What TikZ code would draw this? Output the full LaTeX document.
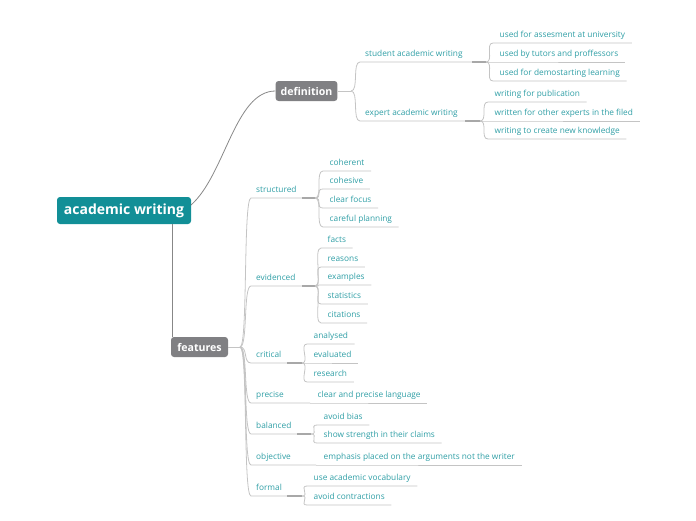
\documentclass[tikz,border=0pt]{standalone}
\usepackage{fontspec}
\setmainfont{Open Sans}
\usetikzlibrary{positioning}

\definecolor{rootteal}{RGB}{18,143,151}
\definecolor{boxgray}{RGB}{128,128,131}
\definecolor{leafteal}{RGB}{46,158,165}
\definecolor{twiggray}{RGB}{196,196,196}
\definecolor{hubgray}{RGB}{168,168,168}
\definecolor{stemgray}{RGB}{135,135,135}

\begin{document}
\begin{tikzpicture}[
        x=1pt, y=-1pt,
        root/.style={fill=rootteal, text=white, rounded corners=3pt, font=\fontsize{14}{16}\selectfont\bfseries,
            minimum width=134pt, minimum height=27pt, inner sep=0pt},
        mainbox/.style={fill=boxgray, text=white, rounded corners=3pt, font=\fontsize{10.6}{12}\selectfont\bfseries,
            minimum height=20pt, inner xsep=5pt, inner ysep=0pt},
        topic/.style={anchor=south west, text=leafteal, font=\fontsize{8.3}{10}\selectfont,
            inner xsep=5pt, inner ysep=3pt, text height=6pt, text depth=2pt},
        leaf/.style={topic, inner xsep=6.5pt},
        brace/.style={to path={.. controls +(8,0) and +(-8,0) .. (\tikztotarget)}},
        stem/.style={draw=stemgray, line width=0.8pt},
        twig/.style={draw=twiggray, line width=0.8pt},
        hub/.style={draw=hubgray, line width=1.1pt}
    ]
    \useasboundingbox (0,0) rectangle (696,520);

    % centre and the two main branches
    \node[root] (aw) at (124,210.5) {academic writing};
    \node[mainbox, minimum width=61pt] (def) at (306.5,91) {definition};
    \node[mainbox, minimum width=57pt] (feat) at (199.5,347) {features};
    \draw[stem] (191,205) .. controls (225,175) and (235,91) .. (def.west);
    \draw[stem] (172,224) -- (feat.north -| 172,0);

    % definition
    \coordinate (defend) at (351,91);
    \draw[twig] (def.east) -- (defend);
    \node[topic] (stu) at (360,62) {student academic writing};
    \node[topic] (exp) at (360,121) {expert academic writing};
    \coordinate (stuhub) at (486,62);
    \coordinate (exphub) at (480,121);
    \draw[twig] (defend) to[brace] (stu.south west) -- (stuhub);
    \draw[twig] (defend) to[brace] (exp.south west) -- (exphub);
    \draw[hub] (stuhub) -- ++(-14,0);
    \draw[hub] (exphub) -- ++(-15,0);

    \node[leaf] (uni) at (493,43) {used for assesment at university};
    \node[leaf] (tut) at (493,62) {used by tutors and proffessors};
    \node[leaf] (dem) at (493,81) {used for demostarting learning};
    \node[leaf] (pub) at (488,102) {writing for publication};
    \node[leaf] (oth) at (488,121) {written for other experts in the filed};
    \node[leaf] (new) at (488,139) {writing to create new knowledge};
    \foreach \n in {uni,tut,dem}
        \draw[twig] (stuhub) to[brace] (\n.south west) -- (\n.south east);
    \foreach \n in {pub,oth,new}
        \draw[twig] (exphub) to[brace] (\n.south west) -- (\n.south east);

    % features
    \coordinate (featend) at (240,347);
    \draw[twig] (feat.east) -- (featend);
    \node[topic] (str) at (251,198) {structured};
    \node[topic] (evi) at (251,286) {evidenced};
    \node[topic] (cri) at (251,363) {critical};
    \node[topic] (pre) at (251,403) {precise};
    \node[topic] (bal) at (251,434) {balanced};
    \node[topic] (obj) at (251,465) {objective};
    \node[topic] (for) at (251,496) {formal};
    \coordinate (strhub) at (315,198);
    \coordinate (evihub) at (315,286);
    \coordinate (crihub) at (302,363);
    \coordinate (prehub) at (310,403);
    \coordinate (balhub) at (311,434);
    \coordinate (objhub) at (316,465);
    \coordinate (forhub) at (302,496);
    \foreach \n in {str,evi,cri,pre,bal,obj,for}
        \draw[twig] (featend) to[brace] (\n.south west) -- (\n hub);
    \draw[hub] (strhub) -- ++(-13,0);
    \draw[hub] (evihub) -- ++(-13,0);
    \draw[hub] (crihub) -- ++(-15,0);
    \draw[hub] (balhub) -- ++(-14,0);
    \draw[hub] (forhub) -- ++(-15,0);

    \node[leaf] (coh) at (323,171) {coherent};
    \node[leaf] (cos) at (323,189) {cohesive};
    \node[leaf] (foc) at (323,208) {clear focus};
    \node[leaf] (pla) at (323,227) {careful planning};
    \node[leaf] (fac) at (321,248) {facts};
    \node[leaf] (rea) at (321,267) {reasons};
    \node[leaf] (exa) at (321,285) {examples};
    \node[leaf] (sta) at (321,304) {statistics};
    \node[leaf] (cit) at (321,323) {citations};
    \node[leaf] (ana) at (307,344) {analysed};
    \node[leaf] (eva) at (307,363) {evaluated};
    \node[leaf] (res) at (307,382) {research};
    \node[leaf] (lan) at (311,403) {clear and precise language};
    \node[leaf] (bia) at (317,425) {avoid bias};
    \node[leaf] (cla) at (317,443) {show strength in their claims};
    \node[leaf] (arg) at (317,465) {emphasis placed on the arguments not the writer};
    \node[leaf] (voc) at (307,486) {use academic vocabulary};
    \node[leaf] (con) at (307,505) {avoid contractions};
    \foreach \n in {coh,cos,foc,pla}
        \draw[twig] (strhub) to[brace] (\n.south west) -- (\n.south east);
    \foreach \n in {fac,rea,exa,sta,cit}
        \draw[twig] (evihub) to[brace] (\n.south west) -- (\n.south east);
    \foreach \n in {ana,eva,res}
        \draw[twig] (crihub) to[brace] (\n.south west) -- (\n.south east);
    \draw[twig] (prehub) -- (lan.south west) -- (lan.south east);
    \foreach \n in {bia,cla}
        \draw[twig] (balhub) to[brace] (\n.south west) -- (\n.south east);
    \draw[twig] (objhub) -- (arg.south west) -- (arg.south east);
    \foreach \n in {voc,con}
        \draw[twig] (forhub) to[brace] (\n.south west) -- (\n.south east);
\end{tikzpicture}
\end{document}
